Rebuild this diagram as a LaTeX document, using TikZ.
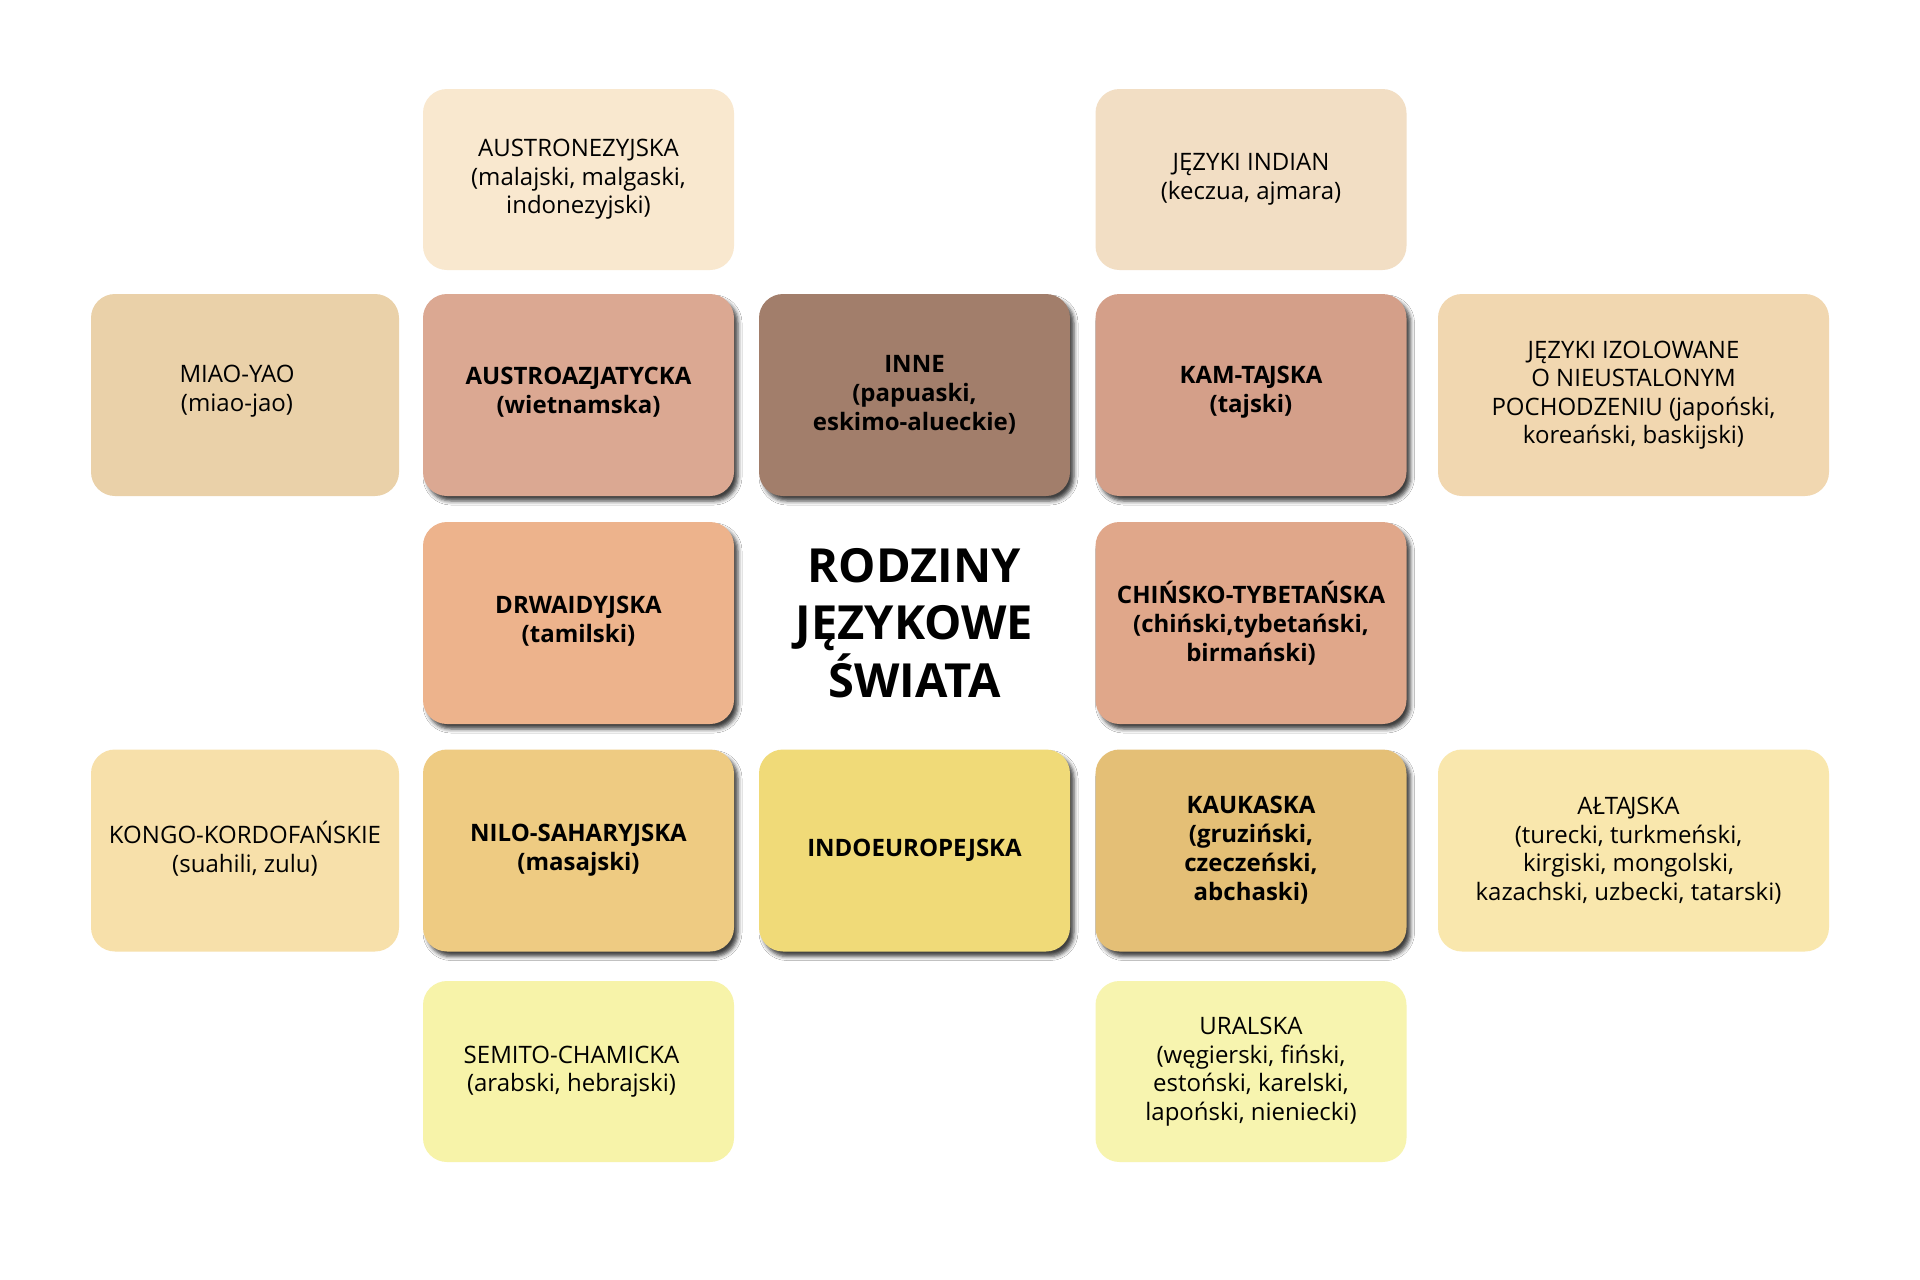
\documentclass[tikz,border=0pt]{standalone}
\usepackage{fontspec}
\setmainfont{Open Sans}
\usetikzlibrary{shadows.blur}
\definecolor{cAustronez}{HTML}{F9E8CF}
\definecolor{cIndian}{HTML}{F2DEC4}
\definecolor{cMiao}{HTML}{EAD1A9}
\definecolor{cAustroaz}{HTML}{DBA892}
\definecolor{cInne}{HTML}{A27E6B}
\definecolor{cKam}{HTML}{D49F89}
\definecolor{cIzol}{HTML}{F1D7B0}
\definecolor{cDrw}{HTML}{EDB38C}
\definecolor{cChin}{HTML}{E0A78A}
\definecolor{cKongo}{HTML}{F7E0AA}
\definecolor{cNilo}{HTML}{EECB82}
\definecolor{cIndo}{HTML}{F0DA78}
\definecolor{cKauk}{HTML}{E4BF76}
\definecolor{cAlt}{HTML}{F9E7AD}
\definecolor{cSemit}{HTML}{F7F3A9}
\definecolor{cUral}{HTML}{F7F4AF}
\tikzset{
  famtext/.style={align=center, text=black, inner sep=0pt, font=\fontsize{24}{28.5}\selectfont},
  famtextb/.style={famtext, font=\bfseries\fontsize{24}{29}\selectfont},
  fambox/.style={famtext, rectangle, rounded corners=24pt},
  famcore/.style={fambox, font=\bfseries\fontsize{24}{29}\selectfont,
    blur shadow={shadow xshift=4pt, shadow yshift=-5pt, shadow blur radius=4pt, shadow opacity=75}},
  wA/.style={minimum width=308pt},
  wB/.style={minimum width=311pt},
  wC/.style={minimum width=391pt},
  hS/.style={minimum height=181pt},
  hL/.style={minimum height=202pt},
}
\begin{document}
\begin{tikzpicture}[x=1pt,y=-1pt]
\fill[white] (0,0) rectangle (1920,1280);
\useasboundingbox (0,0) rectangle (1920,1280);
% row 0
\node[fambox, wB, hS, fill=cAustronez] (austronez) at (578.5,179.5)
  {AUSTRONEZYJSKA\\(malajski, malgaski,\\indonezyjski)};
\node[fambox, wB, hS, fill=cIndian] (indian) at (1251,179.5)
  {JĘZYKI INDIAN\\(keczua, ajmara)};
% row 1
\node[fambox, wA, hL, fill=cMiao,
  label={[famtext, xshift=-8pt, yshift=4pt]center:{MIAO-YAO\\(miao-jao)}}] (miao) at (245,395) {};
\node[famcore, wB, hL, fill=cAustroaz,
  label={[famtextb, yshift=3pt]center:{AUSTROAZJATYCKA\\(wietnamska)}}] (austroaz) at (578.5,395) {};
\node[famcore, wB, hL, fill=cInne] (inne) at (914.5,395)
  {INNE\\(papuaski,\\eskimo-alueckie)};
\node[famcore, wB, hL, fill=cKam,
  label={[famtextb, yshift=3pt]center:{KAM-TA\kern-1.5pt JSKA\\(tajski)}}] (kam) at (1251,395) {};
\node[fambox, wC, hL, fill=cIzol] (izol) at (1633.5,395)
  {JĘZYKI IZOLOWANE\\O NIEUSTALONYM\\POCHODZENIU (japoński,\\koreański, baskijski)};
% row 2
\node[famcore, wB, hL, fill=cDrw,
  label={[famtextb, yshift=2pt]center:{DRWAIDYJSKA\\(tamilski)}}] (drw) at (578.5,623) {};
\node[align=center, font=\bfseries\fontsize{47}{57.5}\selectfont, inner sep=0pt] (title) at (914.5,623)
  {RODZINY\\JĘZYKOWE\\ŚWIATA};
\node[famcore, wB, hL, fill=cChin] (chin) at (1251,623)
  {CHIŃSKO-TYBETAŃSKA\\(chiński,tybetański,\\birmański)};
% row 3
\node[fambox, wA, hL, fill=cKongo,
  label={[famtext, yshift=2pt]center:{KONGO-KORDOFAŃSKIE\\(suahili, zulu)}}] (kongo) at (245,850.5) {};
\node[famcore, wB, hL, fill=cNilo] (nilo) at (578.5,850.5)
  {NILO-SAHARYJSKA\\(masajski)};
\node[famcore, wB, hL, fill=cIndo] (indo) at (914.5,850.5)
  {INDOEUROPEJSKA};
\node[famcore, wB, hL, fill=cKauk] (kauk) at (1251,850.5)
  {KAUKASKA\\(gruziński,\\czeczeński,\\abchaski)};
\node[fambox, wC, hL, fill=cAlt,
  label={[famtext, xshift=-5pt]center:{AŁTA\kern-1.5pt JSKA\\(turecki, turkmeński,\\kirgiski, mongolski,\\kazachski, uzbecki, tatarski)}}] (alt) at (1633.5,850.5) {};
% row 4
\node[fambox, wB, hS, fill=cSemit,
  label={[famtext, xshift=-7pt]center:{SEMITO-CHAMICKA\\(arabski, hebrajski)}}] (semit) at (578.5,1071.5) {};
\node[fambox, wB, hS, fill=cUral] (ural) at (1251,1071.5)
  {URALSKA\\(węgierski, fiński,\\estoński, karelski,\\lapoński, nieniecki)};
\end{tikzpicture}
\end{document}
